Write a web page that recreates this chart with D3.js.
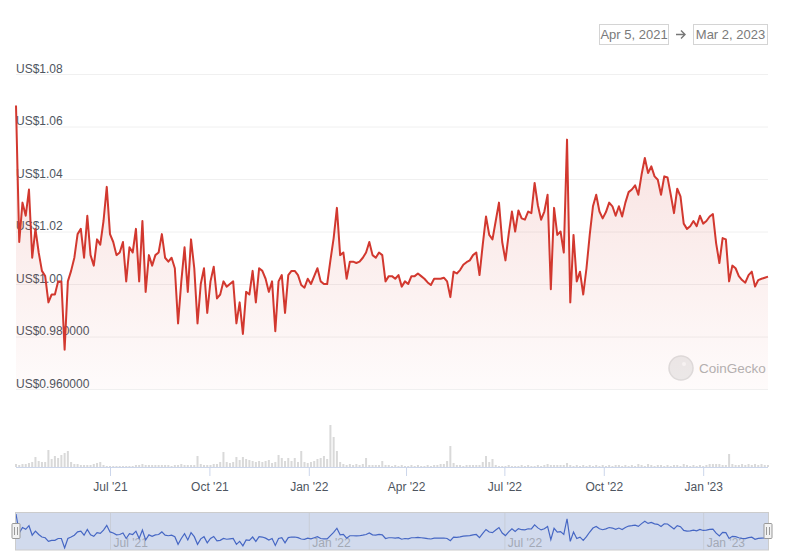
<!DOCTYPE html>
<html>
<head>
<meta charset="utf-8">
<script src="https://cdn.jsdelivr.net/npm/d3@7"></script>
<style>
  html, body { margin: 0; padding: 0; background: #fff; }
  svg { display: block; font-family: "Liberation Sans", Arial, Helvetica, sans-serif; }
</style>
</head>
<body>
<svg id="chart" width="785" height="555"></svg>
<script>
// ---------- DATA ----------
const startDate = "2021-04-05";
const endDate = "2023-03-02";
const sampleStepDays = 3; // one reading every 3 days from startDate

// USD price readings (every 3 days)
const prices = [
  1.068,1.016,1.031,1.026,1.036,1.010,1.021,1.012,1.005,1.003,
  0.993,0.996,0.996,1.001,1.001,0.975,1.001,1.005,1.010,1.019,
  1.021,1.010,1.026,1.011,1.007,1.017,1.015,1.024,1.037,1.019,
  1.016,1.011,1.012,1.016,1.001,1.014,1.012,1.021,1.001,1.024,
  0.997,1.011,1.007,1.011,1.012,1.019,1.010,1.0085,1.010,1.006,
  0.985,1.001,1.014,0.997,1.017,1.006,0.985,1.000,1.006,0.989,
  1.001,1.0066,0.9945,0.996,1.001,0.999,1.000,1.001,0.985,0.993,
  0.981,0.997,0.996,1.005,0.993,1.006,1.005,1.002,0.997,1.001,
  0.982,1.001,1.0034,0.989,1.0034,1.005,1.005,1.0034,0.9996,0.9986,
  1.002,1.000,1.003,1.006,1.001,1.000,1.000,1.009,1.0175,1.029,
  1.011,1.012,1.002,1.0085,1.0085,1.008,1.0085,1.010,1.012,1.016,
  1.011,1.010,1.012,1.011,1.001,1.003,1.003,1.002,1.0034,0.999,
  1.001,1.000,1.003,1.003,1.004,1.003,1.002,1.0006,0.9996,1.002,
  1.002,1.002,1.0024,1.001,0.995,1.0047,1.004,1.0053,1.0073,1.0083,
  1.009,1.011,1.012,1.0034,1.015,1.0257,1.0187,1.017,1.024,1.031,
  1.016,1.009,1.019,1.0276,1.020,1.028,1.025,1.0245,1.0276,1.027,
  1.0385,1.030,1.0245,1.0276,1.034,0.998,1.029,1.0187,1.020,1.012,
  1.055,0.993,1.0187,1.001,1.0047,0.996,1.006,1.0187,1.0296,1.034,
  1.0276,1.025,1.0274,1.031,1.0296,1.026,1.0296,1.0257,1.031,1.035,
  1.036,1.0376,1.034,1.0417,1.048,1.0423,1.0448,1.041,1.0397,1.034,
  1.041,1.0406,1.034,1.027,1.0363,1.0334,1.023,1.021,1.022,1.024,
  1.022,1.026,1.023,1.024,1.0257,1.0266,1.0155,1.008,1.0175,1.017,
  1.001,1.007,1.006,1.003,1.0015,1.0005,1.0034,1.0047,0.999,1.0015,
  1.002,1.0024,1.0028
];

// Trading volume readings (relative units, every 3 days)
const volumes = [
  3,2,3,3,4,5,10,6,5,5,
  17,8,11,9,12,14,16,5,3,3,
  2,2,2,2,3,4,5,2,1,1,
  1,1,1,1,1,1,1,2,2,3,
  2,2,2,2,2,2,2,2,1,2,
  2,3,2,2,2,2,11,3,2,2,
  2,3,3,5,15,5,4,5,10,7,
  10,8,7,6,5,6,5,6,7,4,
  5,12,9,6,9,6,9,5,16,5,
  4,5,6,8,9,11,8,42,30,16,
  5,3,2,3,2,3,2,3,9,2,
  2,2,2,6,2,2,1,2,1,2,
  1,1,2,1,2,1,1,2,1,2,
  2,3,3,6,21,4,2,2,1,2,
  2,2,2,2,5,11,5,8,2,1,
  1,1,2,1,1,1,2,1,2,1,
  1,2,1,2,3,2,2,2,2,2,
  4,2,1,2,1,2,1,2,1,2,
  1,2,1,2,1,2,2,1,2,1,
  2,1,3,2,1,3,2,1,2,2,
  1,2,1,2,2,1,3,2,1,2,
  1,2,1,2,3,3,3,3,2,2,
  13,3,2,2,3,2,3,2,3,2,
  3,2,2
];

const yTicks = [0.96, 0.98, 1.00, 1.02, 1.04, 1.06, 1.08];
const yTickLabels = ["US$0.960000","US$0.980000","US$1.00","US$1.02","US$1.04","US$1.06","US$1.08"];
const xTicks = ["2021-07-01","2021-10-01","2022-01-01","2022-04-01","2022-07-01","2022-10-01","2023-01-01"];
const navTicks = ["2021-07-01","2022-01-01","2022-07-01","2023-01-01"];
const rangeLabels = ["Apr 5, 2021", "Mar 2, 2023"];
const watermark = "CoinGecko";

// ---------- BUILD ----------
const parse = d3.utcParse("%Y-%m-%d");
const t0 = parse(startDate), t1 = parse(endDate);
const data = prices.map((p, i) => ({ date: d3.utcDay.offset(t0, i * sampleStepDays), price: p, vol: volumes[i] }));

const svg = d3.select("#chart");
const left = 16, right = 768;

const x = d3.scaleUtc().domain([t0, t1]).range([left, right]);
const y = d3.scaleLinear().domain([0.96, 1.08]).range([389, 74]);
const yVol = d3.scaleLinear().domain([0, 43]).range([467, 424]);
const yNav = d3.scaleLinear().domain(d3.extent(prices)).range([548, 514]);
const fmt = d3.utcFormat("%b '%y");

// defs
const defs = svg.append("defs");
const grad = defs.append("linearGradient").attr("id", "areaGrad")
  .attr("x1", 0).attr("y1", 0).attr("x2", 0).attr("y2", 1);
grad.append("stop").attr("offset", "0%").attr("stop-color", "#d2382f").attr("stop-opacity", 0.16);
grad.append("stop").attr("offset", "100%").attr("stop-color", "#d2382f").attr("stop-opacity", 0.02);

// date range inputs
const rangeG = svg.append("g");
const boxes = [{ x0: 599, x1: 668 }, { x0: 693, x1: 767 }];
rangeLabels.forEach((lab, i) => {
  rangeG.append("rect").attr("x", boxes[i].x0 + 0.5).attr("y", 24.5)
    .attr("width", boxes[i].x1 - boxes[i].x0).attr("height", 20)
    .attr("fill", "#fff").attr("stroke", "#d4d4d4");
  rangeG.append("text").attr("x", (boxes[i].x0 + boxes[i].x1) / 2 + 0.5).attr("y", 39)
    .attr("text-anchor", "middle").attr("font-size", 13).attr("fill", "#7a7a7a").text(lab);
});
rangeG.append("path").attr("d", "M676,34.5H685M681,30.5L685,34.5L681,38.5")
  .attr("fill", "none").attr("stroke", "#777").attr("stroke-width", 1.4);

// y grid
const yAxis = d3.axisLeft(y).tickValues(yTicks).tickSize(-(right - left)).tickFormat((d, i) => yTickLabels[i]);
const gy = svg.append("g").attr("transform", `translate(${left},0)`).call(yAxis);
gy.select(".domain").remove();
gy.selectAll(".tick line").attr("stroke", "#f0f0f0");
gy.selectAll(".tick text").attr("x", 0).attr("dy", "-2px").attr("text-anchor", "start")
  .attr("font-size", 12).attr("fill", "#4e5560").attr("font-family", "Liberation Sans, Arial, sans-serif");

// watermark
svg.append("circle").attr("cx", 681).attr("cy", 368).attr("r", 12)
  .attr("fill", "#ececec").attr("stroke", "#dedede").attr("stroke-width", 1.5);
svg.append("circle").attr("cx", 684).attr("cy", 364).attr("r", 2).attr("fill", "#f8f8f8");
svg.append("text").attr("x", 699).attr("y", 373).attr("font-size", 13.5).attr("fill", "#b3b3b3").text(watermark);

// area + line
const area = d3.area().x(d => x(d.date)).y0(y(0.96)).y1(d => y(d.price)).curve(d3.curveLinear);
const line = d3.line().x(d => x(d.date)).y(d => y(d.price)).curve(d3.curveLinear);
svg.append("path").datum(data).attr("d", area).attr("fill", "url(#areaGrad)");
svg.append("path").datum(data).attr("d", line).attr("fill", "none")
  .attr("stroke", "#d2382f").attr("stroke-width", 2).attr("stroke-linejoin", "round");

// volume
svg.append("g").selectAll("rect").data(data).join("rect")
  .attr("x", d => x(d.date) - 1).attr("width", 2)
  .attr("y", d => yVol(d.vol)).attr("height", d => yVol(0) - yVol(d.vol))
  .attr("fill", "#d9d9d9");

// x axis
const xAxis = d3.axisBottom(x).tickValues(xTicks.map(parse)).tickSize(9).tickPadding(6).tickFormat(fmt);
const gx = svg.append("g").attr("transform", "translate(0,467)").call(xAxis);
gx.select(".domain").attr("stroke", "#ccd6eb").attr("d", `M${left},0.5H${right}`);
gx.selectAll(".tick line").attr("stroke", "#ccd6eb");
gx.selectAll(".tick text").attr("font-size", 12).attr("fill", "#4e5560")
  .attr("font-family", "Liberation Sans, Arial, sans-serif");

// navigator
const nav = svg.append("g");
nav.append("rect").attr("x", left).attr("y", 512).attr("width", right - left).attr("height", 38)
  .attr("fill", "rgba(102,133,194,0.3)");
const navAxis = d3.axisBottom(x).tickValues(navTicks.map(parse)).tickSize(-38).tickFormat(fmt);
const gn = nav.append("g").attr("transform", "translate(0,550)").call(navAxis);
gn.select(".domain").remove();
gn.selectAll(".tick line").attr("stroke", "#c8cdd8");
gn.selectAll(".tick text").attr("text-anchor", "start").attr("x", 3).attr("y", -3).attr("dy", 0)
  .attr("font-size", 12).attr("fill", "#a3a9b5").attr("font-family", "Liberation Sans, Arial, sans-serif");
const navLine = d3.line().x(d => x(d.date)).y(d => yNav(d.price));
nav.append("path").datum(data).attr("d", navLine).attr("fill", "none")
  .attr("stroke", "#4667c4").attr("stroke-width", 1.2);
nav.append("rect").attr("x", left - 0.5).attr("y", 512.5).attr("width", right - left + 1).attr("height", 37.5)
  .attr("fill", "none").attr("stroke", "#cccccc");
[left, right].forEach(hx => {
  const h = nav.append("g").attr("transform", `translate(${hx},531)`);
  h.append("rect").attr("x", -4).attr("y", -7.5).attr("width", 8).attr("height", 15)
    .attr("rx", 1).attr("fill", "#f2f2f2").attr("stroke", "#999");
  h.append("path").attr("d", "M-1.5,-4V4M1.5,-4V4").attr("stroke", "#999").attr("fill", "none");
});
</script>
</body>
</html>
